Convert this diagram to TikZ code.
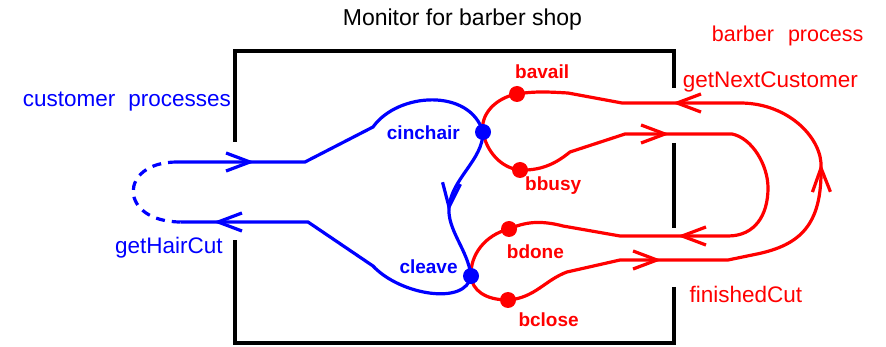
\documentclass[tikz,border=0pt]{standalone}
\usepackage{fontspec}
\setmainfont{Liberation Sans}
\definecolor{cblue}{RGB}{0,0,255}
\definecolor{cred}{RGB}{255,0,0}
\begin{document}
\begin{tikzpicture}[x=1pt,y=-1pt,
  wall/.style={line width=3.8pt,black},
  cust/.style={line width=3.2pt,cblue},
  barb/.style={line width=3.2pt,cred},
  dot/.style={circle,fill,inner sep=0pt,minimum size=16pt},
  lbl/.style={anchor=base west,inner sep=0pt,font=\fontsize{22.5}{26}\selectfont},
  state/.style={anchor=base west,inner sep=0pt,font=\fontsize{19}{22}\selectfont\bfseries},
  % open barb pointing in direction #1 (degrees, y downwards)
  pics/head/.style={code={\draw (0,0) +(#1+159.4:25.6) -- (0,0) -- +(#1+200.6:25.6);}},
]
\useasboundingbox (0,0) rectangle (886,347);

% monitor walls with the entry gaps
\draw[wall] (235,142) -- (235,51) -- (674,51) -- (674,88);
\draw[wall] (674,143) -- (674,228);
\draw[wall] (674,287) -- (674,343) -- (235,343) -- (235,240);

% condition variables
\coordinate (cin) at (483,132);
\coordinate (cle) at (471,276);
\coordinate (bav) at (517,94);
\coordinate (bbu) at (520,170);
\coordinate (bdo) at (509,229);
\coordinate (bcl) at (508,300);

% customer path
\coordinate (inA) at (177,162);
\coordinate (inTip) at (250,162);
\coordinate (inK) at (305,162);
\coordinate (inB) at (373,127);
\coordinate (dnTip) at (449,207);
\coordinate (outB) at (373,266);
\coordinate (outK) at (308,222);
\coordinate (outTip) at (218,222);
\coordinate (outA) at (181,222);

% barber paths
\coordinate (gnA) at (568,93);
\coordinate (gnB) at (622,103);
\coordinate (gnTip) at (677,103);
\coordinate (gnC) at (740,103);
\coordinate (upTip) at (821,168);
\coordinate (fcD) at (757,254);
\coordinate (fcC) at (728,260);
\coordinate (fcTip) at (657,260);
\coordinate (fcB) at (620,260);
\coordinate (fcA) at (567,272);
\coordinate (nbA) at (570,152);
\coordinate (nbB) at (625,134);
\coordinate (nbTip) at (665,134);
\coordinate (nbC) at (732,134);
\coordinate (nbR) at (768,188);
\coordinate (ndC) at (728,236);
\coordinate (ndTip) at (682,236);
\coordinate (ndB) at (620,236);
\coordinate (ndA) at (563,226);

% barber process
\draw[barb] (bav) .. controls (495,98) and (480,115) .. (cin) .. controls (486,150) and (500,168) .. (bbu);
\draw[barb] (bdo) .. controls (485,235) and (470,255) .. (cle) .. controls (472,290) and (485,300) .. (bcl);
\draw[barb] (bav) .. controls (535,91) and (550,92) .. (gnA) -- (gnB) -- (gnTip) -- (gnC)
  .. controls (790,103) and (823,140) .. (upTip)
  .. controls (822,225) and (800,245) .. (fcD) -- (fcC) -- (fcTip) -- (fcB) -- (fcA)
  .. controls (545,280) and (535,298) .. (bcl);
\draw[barb] (bbu) .. controls (545,171) and (560,160) .. (nbA) -- (nbB) -- (nbTip) -- (nbC)
  .. controls (752,138) and (768,165) .. (nbR)
  .. controls (768,215) and (755,236) .. (ndC) -- (ndTip) -- (ndB) -- (ndA)
  .. controls (540,220) and (525,222) .. (bdo);
\pic[barb] at (gnTip) {head=180};
\pic[barb] at (upTip) {head=269};
\pic[barb] at (fcTip) {head=0};
\pic[barb] at (nbTip) {head=0};
\pic[barb] at (ndTip) {head=180};

% customer processes
\draw[cust,dash pattern=on 9pt off 7pt] (inA) .. controls (118,162) and (118,222) .. (outA);
\draw[cust] (inA) -- (inTip) -- (inK) -- (inB) .. controls (398,92) and (470,88) .. (cin)
  .. controls (483,160) and (452,178) .. (dnTip)
  .. controls (447,230) and (468,250) .. (cle)
  .. controls (466,306) and (400,295) .. (outB) -- (outK) -- (outTip) -- (outA);
\pic[cust] at (inTip) {head=0};
\pic[cust] at (dnTip) {head=96};
\pic[cust] at (outTip) {head=180};

% dots
\node[dot,cred] (bavDot) at (bav) {};
\node[dot,cred] (bbuDot) at (bbu) {};
\node[dot,cred] (bdoDot) at (bdo) {};
\node[dot,cred] (bclDot) at (bcl) {};
\node[dot,cblue] (cinDot) at (cin) {};
\node[dot,cblue] (cleDot) at (cle) {};

% texts
\node[anchor=base west,inner sep=0pt,font=\fontsize{23}{27}\selectfont] (title) at (342.7,26) {Monitor for barber shop};
\node[lbl,cred,font=\fontsize{21.5}{25}\selectfont] (barberLbl) at (711.7,41.7) {barber\hspace{14pt}process};
\node[lbl,cblue] (custLbl) at (22.7,106.7) {customer\hspace{13pt}processes};
\node[lbl,cblue] (hairLbl) at (115,254) {getHairCut};
\node[lbl,cred] (nextLbl) at (682.7,87.7) {getNextCustomer};
\node[lbl,cred] (finLbl) at (689.3,302.7) {finishedCut};
\node[state,cblue] (cinLbl) at (386.7,140) {cinchair};
\node[state,cblue] (cleLbl) at (399.3,273.7) {cleave};
\node[state,cred] (bavLbl) at (515,79) {bavail};
\node[state,cred] (bbuLbl) at (525,191) {bbusy};
\node[state,cred] (bdoLbl) at (506.7,258.3) {bdone};
\node[state,cred] (bclLbl) at (518.3,326.7) {bclose};
\end{tikzpicture}
\end{document}
